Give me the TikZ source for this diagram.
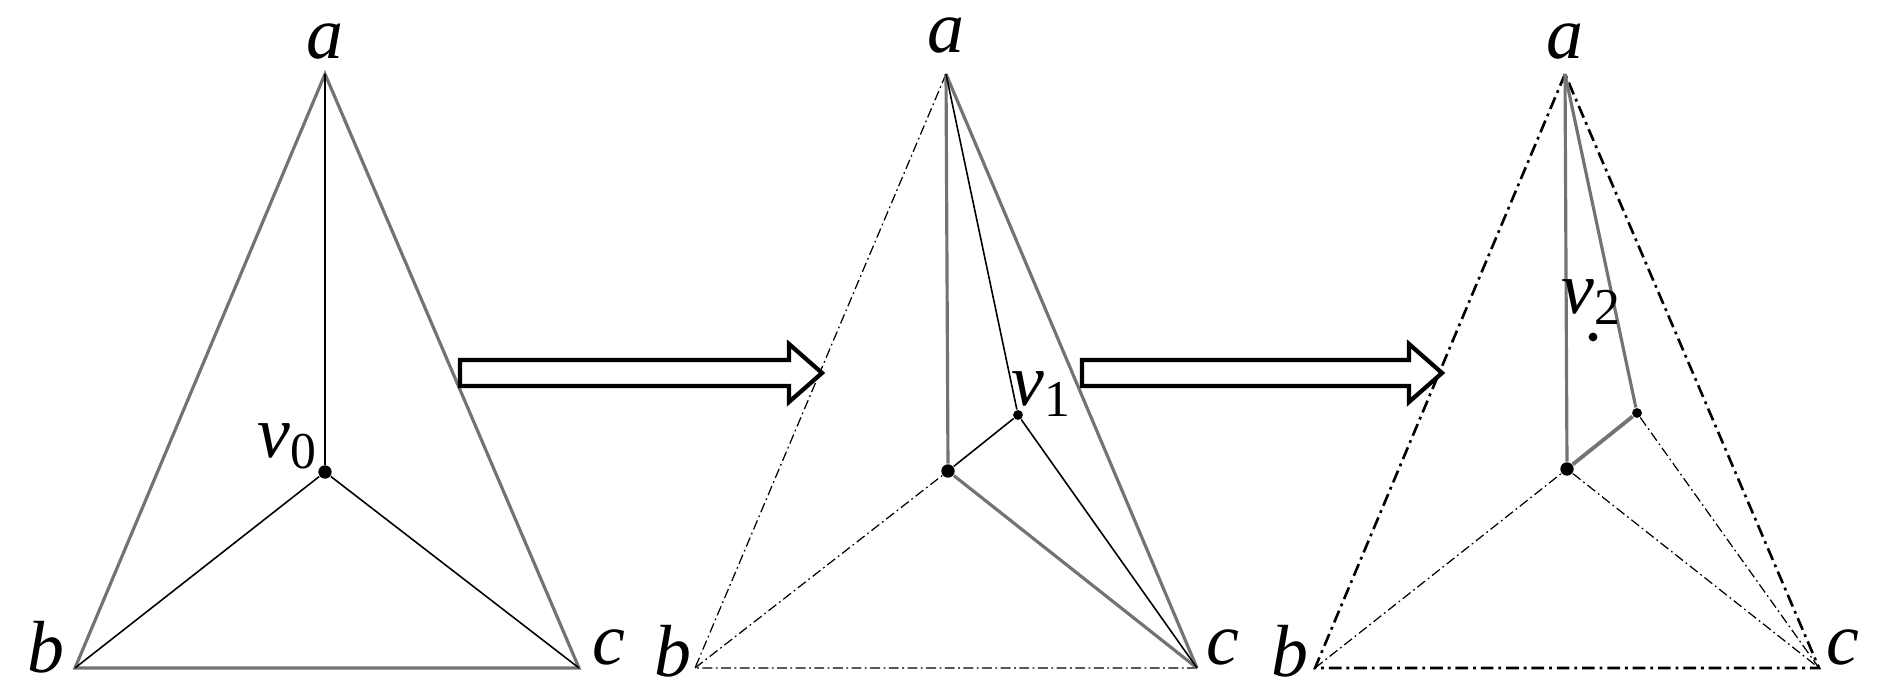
\documentclass[tikz,border=0pt]{standalone}
\usepackage{fontspec}
\setmainfont{Liberation Serif}
\usetikzlibrary{positioning,calc}

\tikzset{
  gline/.style={draw=black!55, line width=0.9pt},
  bline/.style={draw=black, line width=0.45pt},
  dline/.style={draw=black, line width=0.35pt, dash pattern=on 2.8pt off 1pt on 0.5pt off 1pt},
  Dline/.style={draw=black, line width=0.75pt, dash pattern=on 3.6pt off 1.4pt on 0.8pt off 1.4pt},
  lab/.style={font=\fontsize{21}{25}\selectfont\itshape, inner sep=0pt},
  bigdot/.style={circle, fill=black, inner sep=0pt, minimum size=3.8pt},
  smalldot/.style={circle, fill=black, inner sep=0pt, minimum size=2.8pt},
  bigarrow/.style={draw=black, line width=1.2pt, fill=white, line join=miter},
}

\begin{document}
\begin{tikzpicture}[x=0.01cm, y=0.01cm]
    \useasboundingbox (0,0) rectangle (1880,692);

    % first triangle
    \coordinate (a1) at (325,618);
    \coordinate (b1) at (75,24);
    \coordinate (c1) at (579,24);
    \node [bigdot] (v0) at (325,220) {};
    \draw [gline] (a1) -- (b1) -- (c1) -- cycle;
    \draw [bline] (a1) -- (v0);
    \draw [bline] (b1) -- (v0) -- (c1);
    \node [lab] (la1) at (325,650) {a};
    \node [lab] (lb1) at (46,45) {b};
    \node [lab] (lc1) at (609,45) {c};
    \node [lab] (lv0) at (288,246) {v\textsubscript{\normalfont 0}};

    % arrow 1
    \coordinate (s1) at (460,319);
    \draw [bigarrow] ($(s1)+(0,-13)$) -- ($(s1)+(329,-13)$) -- ($(s1)+(329,-29)$)
        -- ($(s1)+(362,0)$) -- ($(s1)+(329,29)$) -- ($(s1)+(329,13)$) -- ($(s1)+(0,13)$) -- cycle;

    % second triangle
    \coordinate (a2) at (946,618);
    \coordinate (b2) at (695,24);
    \coordinate (c2) at (1197,24);
    \node [bigdot] (w0) at (948,221) {};
    \node [smalldot] (v1) at (1018,277) {};
    \draw [dline] (a2) -- (b2) -- (c2);
    \draw [dline] (b2) -- (w0);
    \draw [gline] (a2) -- (c2);
    \draw [gline] (a2) -- (w0) -- (c2);
    \draw [bline] (w0) -- (v1);
    \draw [bline] (a2) -- (v1) -- (c2);
    \node [lab] (la2) at (946,656) {a};
    \node [lab] (lb2) at (673,41) {b};
    \node [lab] (lc2) at (1223,45) {c};
    \node [lab] (lv1) at (1042,298) {v\textsubscript{\normalfont 1}};

    % arrow 2
    \coordinate (s2) at (1082,319);
    \draw [bigarrow] ($(s2)+(0,-13)$) -- ($(s2)+(327,-13)$) -- ($(s2)+(327,-29)$)
        -- ($(s2)+(360,0)$) -- ($(s2)+(327,29)$) -- ($(s2)+(327,13)$) -- ($(s2)+(0,13)$) -- cycle;

    % third triangle
    \coordinate (a3) at (1565,618);
    \coordinate (b3) at (1315,24);
    \coordinate (c3) at (1819,24);
    \node [bigdot] (u0) at (1567,223) {};
    \node [smalldot] (u1) at (1637,279) {};
    \node [circle, fill=black, inner sep=0pt, minimum size=2.5pt] (v2) at (1593,355) {};
    \draw [Dline] (a3) -- (b3) -- (c3) -- cycle;
    \draw [dline] (b3) -- (u0) -- (c3);
    \draw [dline] (u1) -- (c3);
    \draw [gline] (a3) -- (u0);
    \draw [gline] (a3) -- (u1);
    \draw [gline, line width=1.1pt] (u0) -- (u1);
    \node [lab] (la3) at (1565,650) {a};
    \node [lab] (lb3) at (1290,41) {b};
    \node [lab] (lc3) at (1843,45) {c};
    \node [lab] (lv2) at (1592,390) {v\textsubscript{\normalfont 2}};
\end{tikzpicture}
\end{document}
